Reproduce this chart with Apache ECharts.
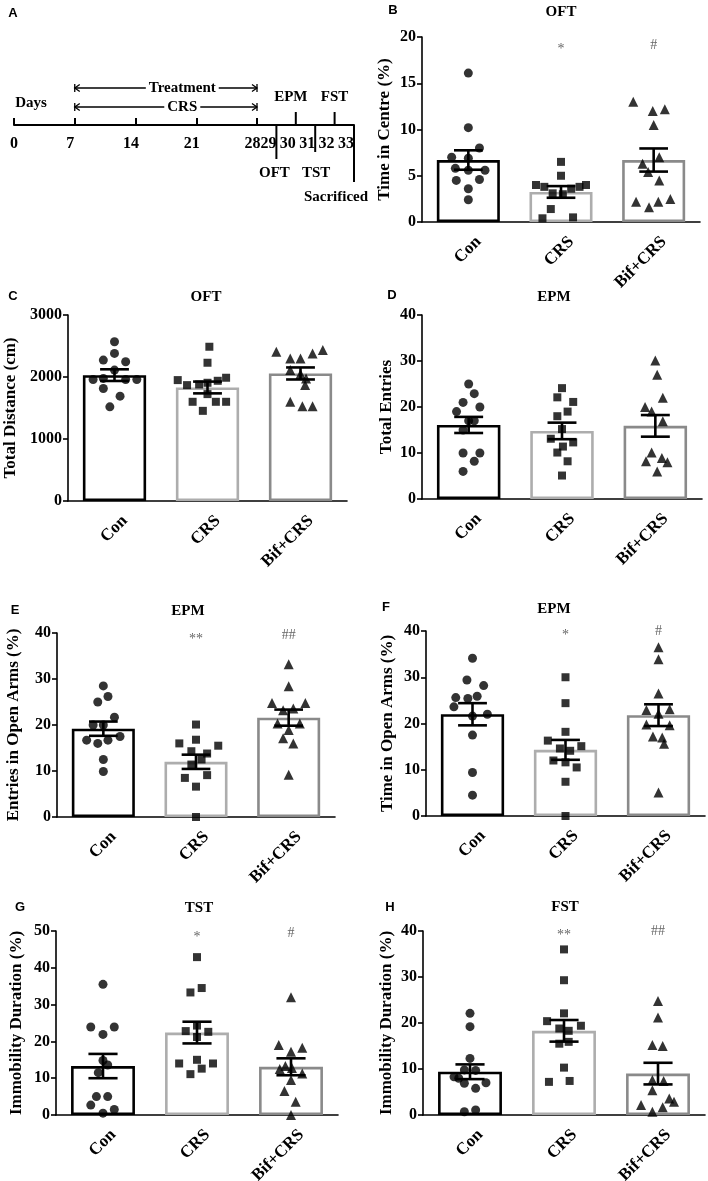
<!DOCTYPE html>
<html><head><meta charset="utf-8">
<script src="https://cdn.jsdelivr.net/npm/echarts@6/dist/echarts.min.js"></script>
<style>html,body{margin:0;padding:0;background:#fff}#c{width:708px;height:1181px}</style>
</head><body><div id="c"></div>
<script>
// ---------- DATA ----------
const groups = ['Con', 'CRS', 'Bif+CRS'];

// Panel A timeline
const dayTicks = [0, 7, 14, 21, 28];
const phases = ['Treatment', 'CRS'];
const phaseStart = [7, 7];
const phaseEnd = [28, 28];
const events = ['OFT', 'EPM', 'TST', 'FST', 'Sacrificed'];
const eventDays = [29, 30, 31, 32, 33];

// Panel B  OFT - Time in Centre (%)
const bMean = [6.7, 3.25, 6.7];
const bSem = [1.05, 0.63, 1.25];
const bCon = [16.1, 10.2, 8.0, 7.0, 6.9, 5.8, 5.6, 5.6, 4.6, 4.5, 3.6, 2.4];
const bCrs = [6.5, 5.0, 4.0, 3.8, 3.1, 3.0, 3.6, 3.8, 4.0, 1.4, 0.4, 0.5];
const bBif = [13.0, 12.0, 12.2, 10.5, 6.3, 7.0, 5.4, 4.5, 2.2, 1.6, 2.2, 2.5];
const bSig = ['', '*', '#'];

// Panel C  OFT - Total Distance (cm)
const cMean = [2030, 1831, 2057];
const cSem = [94, 95, 97];
const cCon = [2569, 2380, 2273, 2246, 2111, 1960, 1977, 1960, 1960, 1815, 1691, 1519];
const cCrs = [2488, 2230, 1950, 1869, 1880, 1907, 1939, 1988, 1724, 1600, 1600, 1600, 1454];
const cBif = [2407, 2300, 2300, 2380, 2434, 2111, 2050, 1977, 1869, 1600, 1530, 1530];
const cSig = ['', '', ''];

// Panel D  EPM - Total Entries
const dMean = [16.1, 14.8, 15.9];
const dSem = [1.75, 1.8, 2.35];
const dCon = [25.0, 22.9, 21.0, 20.0, 19.0, 17.0, 17.0, 15.0, 10.0, 10.0, 8.2, 6.0];
const dCrs = [24.1, 22.1, 21.1, 19.0, 18.0, 15.2, 13.1, 12.3, 11.4, 10.1, 8.2, 5.1];
const dBif = [30.1, 27.0, 22.0, 20.0, 19.0, 16.9, 10.1, 8.2, 8.9, 8.0, 6.0];
const dSig = ['', '', ''];

// Panel E  EPM - Entries in Open Arms (%)
const eMean = [19.2, 12.0, 21.6];
const eSem = [1.55, 1.55, 1.75];
const eCon = [28.5, 26.2, 25.0, 21.7, 20.0, 20.0, 16.7, 16.0, 16.7, 17.5, 12.5, 9.9];
const eCrs = [20.1, 16.0, 16.8, 14.3, 15.5, 13.8, 12.5, 11.4, 8.5, 9.1, 6.6, 0];
const eBif = [33.2, 28.4, 24.8, 24.8, 23.2, 23.6, 20.3, 20.3, 18.9, 17.1, 16.0, 9.2];
const eSig = ['', '**', '##'];

// Panel F  EPM - Time in Open Arms (%)
const fMean = [22.0, 14.3, 21.8];
const fSem = [2.4, 2.15, 2.35];
const fCon = [34.1, 29.4, 28.2, 25.6, 25.4, 25.9, 23.6, 21.6, 22.0, 17.5, 9.4, 4.5];
const fCrs = [30.0, 24.4, 18.2, 16.3, 14.6, 15.1, 14.1, 12.0, 10.5, 11.6, 7.4, 0];
const fBif = [36.5, 33.9, 26.5, 22.9, 22.1, 23.1, 19.8, 19.6, 17.2, 17.0, 15.6, 5.1];
const fSig = ['', '*', '#'];

// Panel G  TST - Immobility Duration (%)
const gMean = [13.3, 22.4, 13.1];
const gSem = [3.3, 2.95, 2.3];
const gCon = [35.5, 23.9, 23.9, 21.9, 14.8, 13.6, 11.5, 5.0, 5.0, 2.7, 1.5, 0.5];
const gCrs = [42.9, 33.3, 34.5, 24.3, 22.8, 22.6, 21.2, 14.0, 15.0, 14.0, 12.6, 11.1];
const gBif = [32.0, 19.0, 18.3, 17.2, 12.5, 13.3, 12.8, 11.3, 9.5, 6.5, 3.6, 0];
const gSig = ['', '*', '#'];

// Panel H  FST - Immobility Duration (%)
const hMean = [9.4, 18.3, 9.0];
const hSem = [1.6, 2.35, 2.35];
const hCon = [22.1, 19.2, 12.3, 8.3, 9.8, 9.7, 8.0, 7.0, 6.9, 5.8, 0.7, 1.1];
const hCrs = [36.0, 29.3, 22.1, 20.4, 18.8, 18.3, 19.4, 15.5, 15.9, 10.3, 7.2, 7.4];
const hBif = [24.8, 21.2, 15.2, 15.0, 7.6, 7.4, 5.4, 3.6, 2.9, 2.2, 1.7, 0.7];
const hSig = ['', '**', '##'];

// ---------- LAYOUT (horizontal jitter of dots, in category-band units) ----------
const jit = {
  B: [[0, 0, 0.12, -0.18, 0, -0.14, 0, 0.18, 0.12, -0.13, 0, 0],
      [0, 0, -0.27, -0.18, -0.09, 0.02, 0.11, 0.2, 0.27, -0.11, -0.2, 0.13],
      [-0.22, -0.01, 0.12, 0, -0.12, 0.06, -0.06, 0.06, -0.19, -0.05, 0.05, 0.18]],
  C: [[0, 0, -0.12, 0.12, 0, -0.23, -0.12, 0.12, 0.24, -0.12, 0.06, -0.05],
      [0.02, 0, -0.32, -0.22, -0.09, 0, 0.11, 0.2, 0, -0.16, 0.09, 0.2, -0.05],
      [-0.26, -0.11, 0, 0.13, 0.24, -0.11, 0, 0.06, 0.05, -0.11, 0.02, 0.13]],
  D: [[0, 0.06, -0.06, 0.12, -0.13, 0, 0.06, -0.06, -0.06, 0.12, 0.06, -0.06],
      [0, -0.05, 0.12, 0.06, -0.05, 0, -0.12, 0.12, 0.01, -0.05, 0.06, 0],
      [0, 0.02, 0.08, -0.11, -0.04, 0.08, -0.04, -0.1, 0.07, 0.13, 0.02]],
  E: [[0, 0.05, -0.06, 0.12, -0.11, 0, -0.18, -0.06, 0.05, 0.18, 0, 0],
      [0, -0.18, 0, -0.05, 0.24, 0.12, 0.06, -0.05, -0.12, 0.12, 0, 0],
      [0, 0, -0.18, 0.18, -0.06, 0.05, -0.12, 0.12, 0, -0.06, 0.05, 0]],
  F: [[0, -0.06, 0.12, -0.18, -0.05, 0.05, -0.2, 0, 0.16, 0, 0, 0],
      [0, 0, 0, -0.19, -0.06, 0.17, 0.05, -0.13, 0.12, 0, 0, 0],
      [0, 0, 0, -0.13, 0, 0.12, -0.13, 0.12, -0.06, 0.04, 0.06, 0]],
  G: [[0, -0.13, 0.12, 0, 0, 0.05, -0.05, -0.07, 0.05, -0.13, 0.12, 0],
      [0, -0.07, 0.05, 0, -0.12, 0.12, 0, -0.19, 0, 0.17, 0.05, -0.07],
      [0, -0.13, 0.12, 0, -0.12, -0.06, 0.01, 0.12, 0, -0.07, 0.05, 0]],
  H: [[0, 0, 0, -0.17, -0.06, 0.06, -0.12, 0.17, -0.06, 0.06, -0.06, 0.06],
      [0, 0, 0, -0.18, -0.05, 0.05, 0.18, -0.05, 0.05, 0, -0.16, 0.06],
      [0, 0, -0.06, 0.05, -0.06, 0.06, -0.06, 0.12, 0.17, -0.18, 0.05, -0.06]]
};

const serif = '"Liberation Serif", "Times New Roman", serif';
const sans = '"Liberation Sans", Arial, sans-serif';
const groupColors = ['#000000', '#adadad', '#8a8a8a'];
const symbols = ['circle', 'rect', 'triangle'];
const symbolSizes = [9, 8, 10];

const panels = [
  {id: 'B', title: 'OFT', yName: 'Time in Centre (%)', max: 20, interval: 5, mean: bMean, sem: bSem, pts: [bCon, bCrs, bBif], sig: bSig, sigFrac: 0.955,
   grid: {left: 422, top: 37, width: 278, height: 185}, nameGap: 29, titleXY: [561, 12], letterXY: [393, 10]},
  {id: 'C', title: 'OFT', yName: 'Total Distance (cm)', max: 3000, interval: 1000, mean: cMean, sem: cSem, pts: [cCon, cCrs, cBif], sig: cSig, sigFrac: 1,
   grid: {left: 68, top: 315, width: 279, height: 186}, nameGap: 49, titleXY: [206, 297], letterXY: [13, 296]},
  {id: 'D', title: 'EPM', yName: 'Total Entries', max: 40, interval: 10, mean: dMean, sem: dSem, pts: [dCon, dCrs, dBif], sig: dSig, sigFrac: 1,
   grid: {left: 422, top: 315, width: 280, height: 184}, nameGap: 27, titleXY: [554, 297], letterXY: [392, 295]},
  {id: 'E', title: 'EPM', yName: 'Entries in Open Arms (%)', max: 40, interval: 10, mean: eMean, sem: eSem, pts: [eCon, eCrs, eBif], sig: eSig, sigFrac: 0.985,
   grid: {left: 57, top: 633, width: 278, height: 184}, nameGap: 35, titleXY: [188, 611], letterXY: [15, 610]},
  {id: 'F', title: 'EPM', yName: 'Time in Open Arms (%)', max: 40, interval: 10, mean: fMean, sem: fSem, pts: [fCon, fCrs, fBif], sig: fSig, sigFrac: 1.0,
   grid: {left: 426, top: 631, width: 279, height: 185}, nameGap: 30, titleXY: [554, 609], letterXY: [386, 607]},
  {id: 'G', title: 'TST', yName: 'Immobility Duration (%)', max: 50, interval: 10, mean: gMean, sem: gSem, pts: [gCon, gCrs, gBif], sig: gSig, sigFrac: 0.985,
   grid: {left: 56, top: 931, width: 282, height: 184}, nameGap: 31, titleXY: [199, 908], letterXY: [20, 907]},
  {id: 'H', title: 'FST', yName: 'Immobility Duration (%)', max: 40, interval: 10, mean: hMean, sem: hSem, pts: [hCon, hCrs, hBif], sig: hSig, sigFrac: 1.0,
   grid: {left: 423, top: 931, width: 282, height: 184}, nameGap: 28, titleXY: [565, 907], letterXY: [390, 907]}
];

// ---------- BUILD ----------
const option = {
  animation: false,
  backgroundColor: '#ffffff',
  textStyle: {fontFamily: serif},
  grid: [], xAxis: [], yAxis: [], series: [], graphic: []
};

function txt(x, y, text, font, fill) {
  return {type: 'text', x: x, y: y, silent: true,
    style: {text: text, font: font, fill: fill || '#000', align: 'center', verticalAlign: 'middle', textAlign: 'center', textVerticalAlign: 'middle'}};
}

panels.forEach(p => {
  const gi = option.grid.length;
  option.grid.push(Object.assign({containLabel: false, outerBoundsMode: 'none'}, p.grid));
  const xc = option.xAxis.length;
  option.xAxis.push({
    type: 'category', gridIndex: gi, data: groups, boundaryGap: true,
    axisLine: {onZero: false, lineStyle: {color: '#000', width: 1.6}},
    axisTick: {alignWithLabel: true, length: 5, lineStyle: {color: '#000', width: 1.6}},
    axisLabel: {rotate: 45, interval: 0, margin: 7, verticalAlign: 'top', padding: [6, 0, 0, 0],
      color: '#000', fontFamily: serif, fontWeight: 'bold', fontSize: 17},
    splitLine: {show: false}
  });
  option.xAxis.push({type: 'value', gridIndex: gi, min: -0.5, max: 2.5, show: false,
    axisLine: {show: false, onZero: false}, axisTick: {show: false}, axisLabel: {show: false}, splitLine: {show: false}});
  const yi = option.yAxis.length;
  option.yAxis.push({
    type: 'value', gridIndex: gi, min: 0, max: p.max, interval: p.interval,
    name: p.yName, nameLocation: 'middle', nameGap: p.nameGap,
    nameTextStyle: {color: '#000', fontFamily: serif, fontWeight: 'bold', fontSize: 17},
    axisLine: {show: true, onZero: false, lineStyle: {color: '#000', width: 1.6}},
    axisTick: {show: true, length: 5, lineStyle: {color: '#000', width: 1.6}},
    axisLabel: {color: '#000', fontFamily: serif, fontWeight: 'bold', fontSize: 16, margin: 6, formatter: v => String(v)},
    splitLine: {show: false}
  });
  // bars
  option.series.push({
    type: 'bar', xAxisIndex: xc, yAxisIndex: yi, barWidth: '68%', silent: true, z: 2,
    data: p.mean.map((v, i) => ({value: v, itemStyle: {color: '#fff', borderColor: groupColors[i], borderWidth: 2.6}}))
  });
  // dots
  p.pts.forEach((arr, g) => {
    option.series.push({
      type: 'scatter', xAxisIndex: xc + 1, yAxisIndex: yi, symbol: symbols[g], symbolSize: symbolSizes[g],
      itemStyle: {color: '#000'}, silent: true, z: 3,
      data: arr.map((v, j) => [g + jit[p.id][g][j], v])
    });
  });
  // error bars (mean ± SEM)
  option.series.push({
    type: 'custom', xAxisIndex: xc, yAxisIndex: yi, silent: true, z: 4,
    data: p.mean.map((m, i) => [i, m - p.sem[i], m + p.sem[i]]),
    renderItem: (params, api) => {
      const lo = api.coord([api.value(0), api.value(1)]);
      const hi = api.coord([api.value(0), api.value(2)]);
      const hw = api.size([1, 0])[0] * 0.155;
      const st = {stroke: '#000', lineWidth: 2.6};
      return {type: 'group', children: [
        {type: 'line', shape: {x1: hi[0], y1: hi[1], x2: lo[0], y2: lo[1]}, style: st},
        {type: 'line', shape: {x1: hi[0] - hw, y1: hi[1], x2: hi[0] + hw, y2: hi[1]}, style: st},
        {type: 'line', shape: {x1: lo[0] - hw, y1: lo[1], x2: lo[0] + hw, y2: lo[1]}, style: st}
      ]};
    }
  });
  // significance marks
  option.series.push({
    type: 'custom', xAxisIndex: xc, yAxisIndex: yi, silent: true, z: 5,
    data: p.sig.map((s, i) => [i, p.max * p.sigFrac]),
    renderItem: (params, api) => {
      const c = api.coord([api.value(0), api.value(1)]);
      const s = p.sig[params.dataIndex];
      return {type: 'text', x: c[0], y: c[1] + (s.indexOf('*') >= 0 ? 4 : 0),
        style: {text: s, font: '14px ' + serif, fill: '#666', align: 'center', verticalAlign: 'middle', textAlign: 'center', textVerticalAlign: 'middle'}};
    }
  });
  option.graphic.push(txt(p.titleXY[0], p.titleXY[1], p.title, 'bold 15px ' + serif));
  option.graphic.push(txt(p.letterXY[0], p.letterXY[1], p.id, 'bold 13px ' + sans));
});

// ---------- PANEL A: timeline ----------
const gA1 = option.grid.length;
option.grid.push({left: 14, top: 65, width: 243, height: 60, containLabel: false, outerBoundsMode: 'none'});
option.grid.push({left: 257, top: 65, width: 97, height: 60, containLabel: false, outerBoundsMode: 'none'});
const xA1 = option.xAxis.length;
option.xAxis.push({
  type: 'value', gridIndex: gA1, min: dayTicks[0], max: dayTicks[dayTicks.length - 1], interval: dayTicks[1] - dayTicks[0],
  axisLine: {onZero: false, lineStyle: {color: '#000', width: 2}},
  axisTick: {inside: true, length: 7, lineStyle: {color: '#000', width: 2}},
  axisLabel: {color: '#000', fontFamily: serif, fontWeight: 'bold', fontSize: 16, margin: 11,
    formatter: v => (v === 0 ? '0' : '{s|' + v + '}'), rich: {s: {padding: [0, 9, 0, 0], fontFamily: serif, fontWeight: 'bold', fontSize: 16, color: '#000'}}},
  splitLine: {show: false}
});
option.xAxis.push({
  type: 'value', gridIndex: gA1 + 1, min: 28, max: 33, interval: 1,
  axisLine: {onZero: false, lineStyle: {color: '#000', width: 2}},
  axisTick: {show: false},
  axisLabel: {color: '#000', fontFamily: serif, fontWeight: 'bold', fontSize: 16, margin: 11, align: 'right',
    formatter: v => (v === 28 ? '' : String(v))},
  splitLine: {show: false}
});
const yA1 = option.yAxis.length;
option.yAxis.push({type: 'value', gridIndex: gA1, min: 0, max: 60, show: false});
option.yAxis.push({type: 'value', gridIndex: gA1 + 1, min: 0, max: 60, show: false});

// layout of diagram elements (pixels above/below the day line)
const phaseLift = [37, 18];
const eventLen = [-34, 13, -27, 13, -57];
const eventLabelY = [-48, 28, -48, 28, -72];
const eventLabelDx = [-2, -5, 1, 0, -18];

option.series.push({
  type: 'custom', xAxisIndex: xA1, yAxisIndex: yA1, silent: true, clip: false,
  data: phases.map((ph, i) => [phaseStart[i], phaseEnd[i], phaseLift[i]]),
  renderItem: (params, api) => {
    const s = api.coord([api.value(0), api.value(2)]);
    const e = api.coord([api.value(1), api.value(2)]);
    const cx = s[0] + (e[0] - s[0]) * 0.59;
    const st = {stroke: '#000', lineWidth: 1.3, fill: null};
    return {type: 'group', children: [
      {type: 'line', shape: {x1: s[0], y1: s[1], x2: e[0], y2: e[1]}, style: st},
      {type: 'polyline', shape: {points: [[s[0] + 5, s[1] - 3.5], [s[0], s[1]], [s[0] + 5, s[1] + 3.5]]}, style: st},
      {type: 'line', shape: {x1: s[0], y1: s[1] - 4, x2: s[0], y2: s[1] + 4}, style: st},
      {type: 'polyline', shape: {points: [[e[0] - 5, e[1] - 3.5], [e[0], e[1]], [e[0] - 5, e[1] + 3.5]]}, style: st},
      {type: 'line', shape: {x1: e[0], y1: e[1] - 4, x2: e[0], y2: e[1] + 4}, style: st},
      {type: 'text', x: cx, y: s[1], style: {text: phases[params.dataIndex], font: 'bold 15px ' + serif, fill: '#000',
        backgroundColor: '#fff', padding: [0, 3], align: 'center', verticalAlign: 'middle', textAlign: 'center', textVerticalAlign: 'middle'}}
    ]};
  }
});

option.series.push({
  type: 'custom', xAxisIndex: xA1 + 1, yAxisIndex: yA1 + 1, silent: true, clip: false,
  data: eventDays.map((d, i) => [d, eventLen[i], eventLabelY[i]]),
  renderItem: (params, api) => {
    const i = params.dataIndex;
    const a = api.coord([api.value(0), 0]);
    const b = api.coord([api.value(0), api.value(1)]);
    const t = api.coord([api.value(0), api.value(2)]);
    return {type: 'group', children: [
      {type: 'line', shape: {x1: a[0], y1: a[1], x2: b[0], y2: b[1]}, style: {stroke: '#000', lineWidth: 2}},
      {type: 'text', x: t[0] + eventLabelDx[i], y: t[1], style: {text: events[i], font: 'bold 15px ' + serif, fill: '#000',
        align: 'center', verticalAlign: 'middle', textAlign: 'center', textVerticalAlign: 'middle'}}
    ]};
  }
});

option.graphic.push(txt(31, 103, 'Days', 'bold 15px ' + serif));
option.graphic.push(txt(13, 13, 'A', 'bold 13px ' + sans));

const chart = echarts.init(document.getElementById('c'), null, {renderer: 'canvas'});
chart.setOption(option);
</script>
</body></html>
